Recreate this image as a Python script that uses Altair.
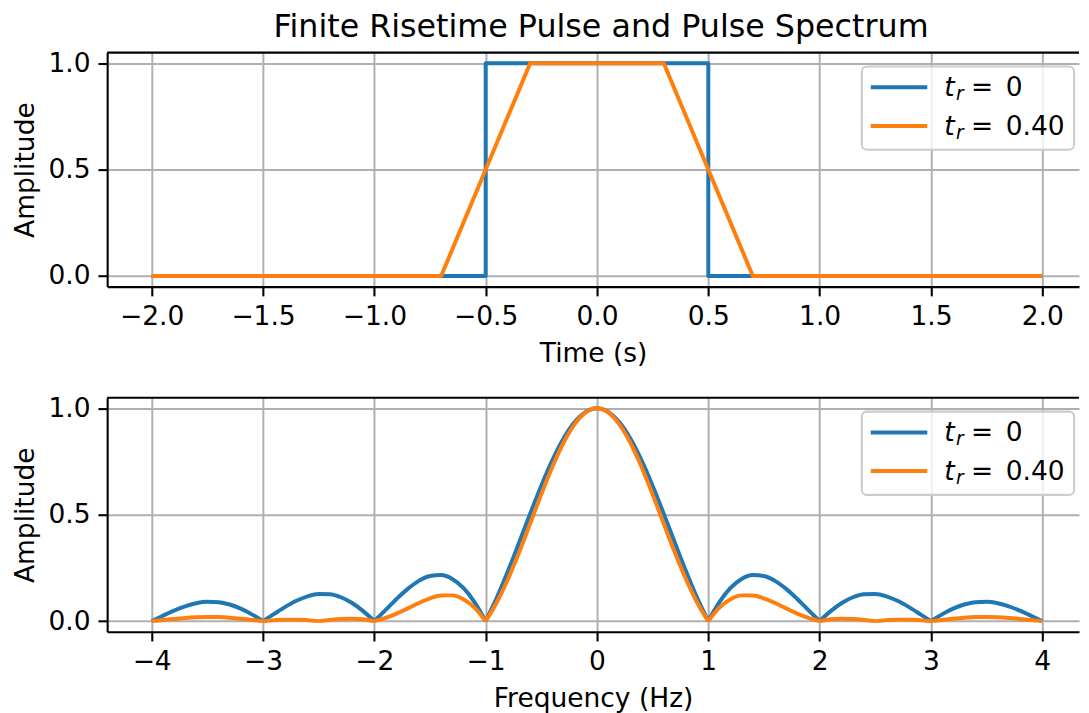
import altair as alt
import pandas as pd

# ---------------- data ----------------
series_names = ["tr0", "tr040"]
legend_values = ["0", "0.40"]
line_colors = ["#1f77b4", "#ff7f0e"]

time_tr0 = [-2.0, -0.5, -0.5, 0.5, 0.5, 2.0]
pulse_tr0 = [0.0, 0.0, 1.0, 1.0, 0.0, 0.0]
time_tr040 = [-2.0, -0.7, -0.3, 0.3, 0.7, 2.0]
pulse_tr040 = [0.0, 0.0, 1.0, 1.0, 0.0, 0.0]

freq = [-4.0, -3.9, -3.8, -3.7, -3.6, -3.5, -3.4, -3.3, -3.2, -3.1,
        -3.0, -2.9, -2.8, -2.7, -2.6, -2.5, -2.4, -2.3, -2.2, -2.1,
        -2.0, -1.9, -1.8, -1.7, -1.6, -1.5, -1.4, -1.3, -1.2, -1.1,
        -1.0, -0.9, -0.8, -0.7, -0.6, -0.5, -0.4, -0.3, -0.2, -0.1,
        0.0,
        0.1, 0.2, 0.3, 0.4, 0.5, 0.6, 0.7, 0.8, 0.9, 1.0,
        1.1, 1.2, 1.3, 1.4, 1.5, 1.6, 1.7, 1.8, 1.9, 2.0,
        2.1, 2.2, 2.3, 2.4, 2.5, 2.6, 2.7, 2.8, 2.9, 3.0,
        3.1, 3.2, 3.3, 3.4, 3.5, 3.6, 3.7, 3.8, 3.9, 4.0]

spec_tr0 = [0.0, 0.0252, 0.0492, 0.0696, 0.0841, 0.0909, 0.0890, 0.0780, 0.0585, 0.0317,
            0.0, 0.0339, 0.0668, 0.0954, 0.1164, 0.1273, 0.1261, 0.1120, 0.0850, 0.0468,
            0.0, 0.0518, 0.1039, 0.1515, 0.1892, 0.2122, 0.2162, 0.1981, 0.1559, 0.0894,
            0.0, 0.1093, 0.2339, 0.3679, 0.5046, 0.6366, 0.7568, 0.8584, 0.9355, 0.9836,
            1.0,
            0.9836, 0.9355, 0.8584, 0.7568, 0.6366, 0.5046, 0.3679, 0.2339, 0.1093, 0.0,
            0.0894, 0.1559, 0.1981, 0.2162, 0.2122, 0.1892, 0.1515, 0.1039, 0.0518, 0.0,
            0.0468, 0.0850, 0.1120, 0.1261, 0.1273, 0.1164, 0.0954, 0.0668, 0.0339, 0.0,
            0.0317, 0.0585, 0.0780, 0.0890, 0.0909, 0.0841, 0.0696, 0.0492, 0.0252, 0.0]

spec_tr040 = [0.0, 0.0051, 0.0103, 0.0149, 0.0183, 0.0197, 0.0189, 0.0159, 0.0112, 0.0056,
              0.0, 0.0045, 0.0070, 0.0070, 0.0045, 0.0, 0.0052, 0.0096, 0.0113, 0.0086,
              0.0, 0.0148, 0.0354, 0.0599, 0.0852, 0.1071, 0.1207, 0.1210, 0.1032, 0.0635,
              0.0, 0.0874, 0.1964, 0.3222, 0.4581, 0.5956, 0.7254, 0.8382, 0.9257, 0.9810,
              1.0,
              0.9810, 0.9257, 0.8382, 0.7254, 0.5956, 0.4581, 0.3222, 0.1964, 0.0874, 0.0,
              0.0635, 0.1032, 0.1210, 0.1207, 0.1071, 0.0852, 0.0599, 0.0354, 0.0148, 0.0,
              0.0086, 0.0113, 0.0096, 0.0052, 0.0, 0.0045, 0.0070, 0.0070, 0.0045, 0.0,
              0.0056, 0.0112, 0.0159, 0.0189, 0.0197, 0.0183, 0.0149, 0.0103, 0.0051, 0.0]

time_ticks = [-2.0, -1.5, -1.0, -0.5, 0.0, 0.5, 1.0, 1.5, 2.0]
freq_ticks = [-4, -3, -2, -1, 0, 1, 2, 3, 4]
amp_ticks = [0.0, 0.5, 1.0]

title_text = "Finite Risetime Pulse and Pulse Spectrum"


# ---------------- tables ----------------
def long_table(xs_list, ys_list, split_at_zero=False):
    rows = []
    for name, xs, ys in zip(series_names, xs_list, ys_list):
        seg = 0
        n = len(xs)
        for i, (xv, yv) in enumerate(zip(xs, ys)):
            rows.append({"series": name, "idx": i, "seg": seg, "x": xv, "y": yv})
            if split_at_zero and yv == 0.0 and 0 < i < n - 1:
                seg += 1
                rows.append({"series": name, "idx": i, "seg": seg, "x": xv, "y": yv})
    return pd.DataFrame(rows)


time_df = long_table([time_tr0, time_tr040], [pulse_tr0, pulse_tr040])
freq_df = long_table([freq, freq], [spec_tr0, spec_tr040], split_at_zero=True)

FONT = "DejaVu Sans"
FS = 26.7
W = 980
H = 236
LW = 4.0
FW = 2.1


def panel(df, xdomain, xticks, xfmt, xtitle, interp, title=None):
    xenc = alt.X("x:Q", scale=alt.Scale(domain=xdomain, nice=False, zero=False),
                 axis=alt.Axis(values=xticks, format=xfmt, title=xtitle))
    yenc = alt.Y("y:Q", scale=alt.Scale(domain=[-0.05, 1.05], nice=False, zero=False),
                 axis=alt.Axis(values=amp_ticks, format=".1f", title="Amplitude"))
    layers = []
    for name, col in zip(series_names, line_colors):
        layers.append(
            alt.Chart(df).transform_filter(alt.datum.series == name)
            .mark_line(color=col, strokeWidth=LW, strokeJoin="round", interpolate=interp)
            .encode(x=xenc, y=yenc, order="idx:Q", detail="seg:N")
        )
    one = pd.DataFrame({"k": [0]})
    # top frame line
    layers.append(alt.Chart(one).mark_rule(color="black", strokeWidth=FW)
                  .encode(x=alt.value(0), x2=alt.value(W), y=alt.value(0)))
    # legend box
    layers.append(alt.Chart(one).mark_rect(fill="white", fillOpacity=0.8, stroke="#cccccc",
                                           strokeWidth=2.1, cornerRadius=5)
                  .encode(x=alt.value(761), x2=alt.value(975), y=alt.value(14), y2=alt.value(98)))
    row_y = [35, 74]
    for i in range(2):
        ly = row_y[i]
        lab = pd.DataFrame({"val": [legend_values[i]], "t": ["t"], "r": ["r"], "eq": ["="]})
        layers.append(alt.Chart(lab).mark_rule(color=line_colors[i], strokeWidth=LW)
                      .encode(x=alt.value(770), x2=alt.value(827), y=alt.value(ly)))
        layers.append(alt.Chart(lab).mark_text(align="left", baseline="alphabetic", font=FONT,
                                               fontStyle="italic", fontSize=FS, color="black")
                      .encode(x=alt.value(844), y=alt.value(ly + 9), text="t:N"))
        layers.append(alt.Chart(lab).mark_text(align="left", baseline="alphabetic", font=FONT,
                                               fontStyle="italic", fontSize=18.7, color="black")
                      .encode(x=alt.value(856), y=alt.value(ly + 13), text="r:N"))
        layers.append(alt.Chart(lab).mark_text(align="left", baseline="alphabetic", font=FONT,
                                               fontSize=FS, color="black")
                      .encode(x=alt.value(871), y=alt.value(ly + 9), text="eq:N"))
        layers.append(alt.Chart(lab).mark_text(align="left", baseline="alphabetic", font=FONT,
                                               fontSize=FS, color="black")
                      .encode(x=alt.value(906), y=alt.value(ly + 9), text="val:N"))
    props = dict(width=W, height=H)
    if title is not None:
        props["title"] = alt.TitleParams(text=title, fontSize=32, font=FONT, fontWeight="normal",
                                         color="black", anchor="middle", frame="group",
                                         offset=6, dx=8)
    return alt.layer(*layers).properties(**props)


top = panel(time_df, [-2.2, 2.165], time_ticks, ".1f", "Time (s)", "linear", title=title_text)
bottom = panel(freq_df, [-4.4, 4.331], freq_ticks, "d", "Frequency (Hz)", "monotone")

chart = (
    alt.vconcat(top, bottom, spacing=28)
    .properties(padding={"left": 4, "top": 0, "right": 0, "bottom": 2})
    .configure_view(stroke=None)
    .configure_axis(
        domainColor="black", domainWidth=FW,
        tickColor="black", tickWidth=FW, tickSize=9.3,
        labelFont=FONT, labelFontSize=FS, labelColor="black",
        titleFont=FONT, titleFontSize=FS, titleFontWeight="normal", titleColor="black",
        gridColor="#b0b0b0", gridWidth=2.0, grid=True,
    )
    .configure_axisX(labelPadding=8, titlePadding=10)
    .configure_axisY(labelPadding=8, titlePadding=9)
)

chart.save("out.html", embed_options={"renderer": "svg", "actions": False})
